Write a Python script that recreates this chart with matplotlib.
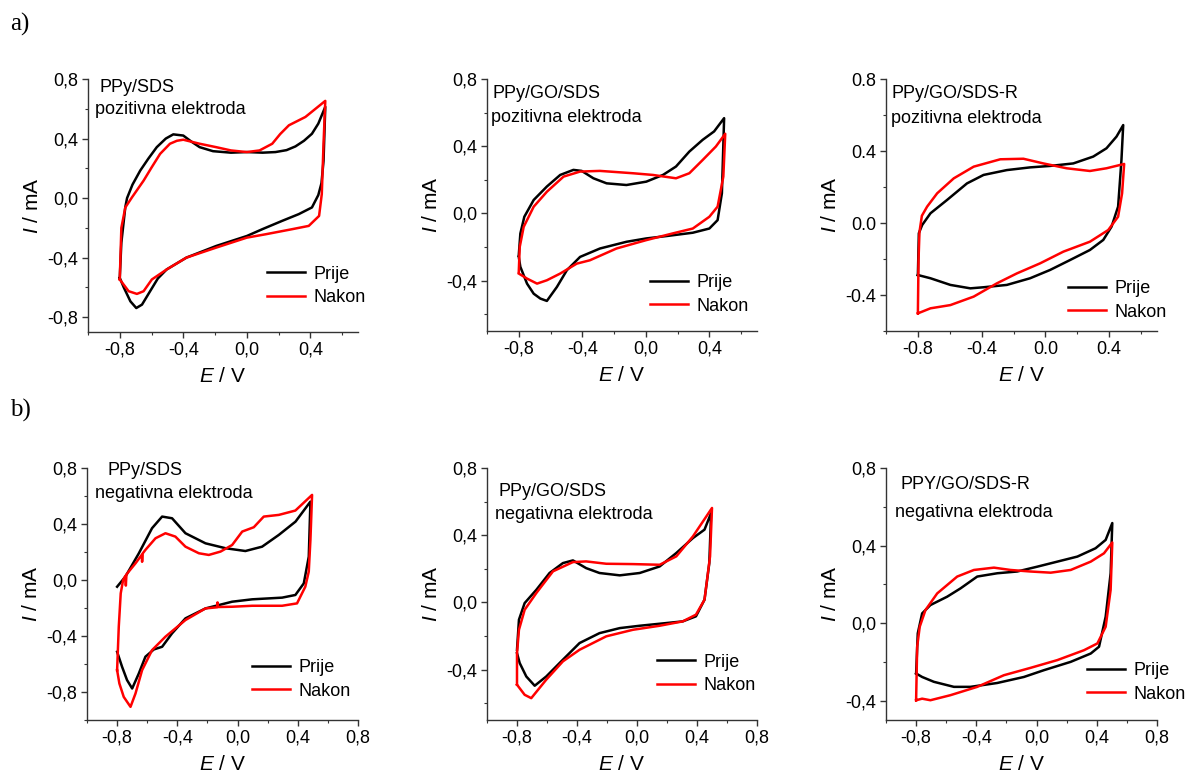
import matplotlib
matplotlib.use("Agg")
import matplotlib.pyplot as plt
from matplotlib.ticker import MultipleLocator, FuncFormatter

plt.rcParams['font.family'] = ['Liberation Sans', 'DejaVu Sans']
plt.rcParams['mathtext.fontset'] = 'custom'
plt.rcParams['mathtext.it'] = 'Liberation Sans:italic'
plt.rcParams['mathtext.rm'] = 'Liberation Sans'

# ---- data: E / V and I / mA ----
# a) pozitivna elektroda
p1_prije_E = [-0.8, -0.79, -0.765, -0.754, -0.72, -0.671, -0.62, -0.567, -0.51, -0.463, -0.40, -0.35, -0.297, -0.213, -0.1, 0.0, 0.1, 0.18, 0.25, 0.306, 0.36, 0.41, 0.45, 0.494,
              0.483, 0.47, 0.45, 0.41, 0.327, 0.223, 0.098, 0.0, -0.193, -0.38, -0.505, -0.56, -0.609, -0.66, -0.696, -0.733, -0.775, -0.8]
p1_prije_I = [-0.536, -0.3, -0.06, 0.0, 0.09, 0.185, 0.265, 0.342, 0.40, 0.428, 0.42, 0.38, 0.342, 0.315, 0.305, 0.309, 0.305, 0.309, 0.322, 0.347, 0.385, 0.432, 0.5, 0.613,
              0.25, 0.1, 0.02, -0.063, -0.108, -0.153, -0.209, -0.255, -0.322, -0.40, -0.48, -0.54, -0.626, -0.716, -0.739, -0.694, -0.60, -0.536]
p1_nakon_E = [-0.8, -0.79, -0.765, -0.723, -0.65, -0.6, -0.546, -0.484, -0.44, -0.40, -0.297, -0.193, -0.1, 0.0, 0.08, 0.16, 0.21, 0.265, 0.369, 0.494,
              0.483, 0.472, 0.455, 0.39, 0.286, 0.12, 0.0, -0.193, -0.38, -0.505, -0.598, -0.65, -0.692, -0.744, -0.8]
p1_nakon_I = [-0.547, -0.2, -0.063, 0.005, 0.117, 0.205, 0.297, 0.365, 0.385, 0.392, 0.365, 0.342, 0.32, 0.309, 0.32, 0.365, 0.43, 0.489, 0.545, 0.653,
              0.365, 0.027, -0.12, -0.187, -0.209, -0.243, -0.266, -0.333, -0.40, -0.48, -0.547, -0.626, -0.644, -0.626, -0.547]

p2_prije_E = [-0.8, -0.79, -0.765, -0.706, -0.623, -0.539, -0.456, -0.404, -0.33, -0.247, -0.122, 0.003, 0.108, 0.19, 0.274, 0.358, 0.43, 0.493,
              0.479, 0.452, 0.40, 0.296, 0.129, 0.003, -0.122, -0.289, -0.414, -0.497, -0.56, -0.623, -0.664, -0.706, -0.748, -0.79, -0.8]
p2_prije_I = [-0.249, -0.12, -0.02, 0.08, 0.16, 0.229, 0.259, 0.253, 0.209, 0.179, 0.169, 0.189, 0.229, 0.279, 0.368, 0.438, 0.488, 0.567,
              0.12, -0.04, -0.09, -0.115, -0.135, -0.149, -0.169, -0.209, -0.259, -0.338, -0.438, -0.521, -0.507, -0.478, -0.418, -0.318, -0.259]
p2_nakon_E = [-0.8, -0.794, -0.769, -0.706, -0.623, -0.518, -0.414, -0.289, -0.081, 0.044, 0.19, 0.274, 0.358, 0.441, 0.5,
              0.488, 0.452, 0.40, 0.296, 0.17, 0.003, -0.185, -0.352, -0.435, -0.539, -0.623, -0.685, -0.748, -0.8]
p2_nakon_I = [-0.348, -0.2, -0.08, 0.04, 0.129, 0.219, 0.249, 0.253, 0.239, 0.229, 0.209, 0.239, 0.318, 0.398, 0.474,
              0.219, 0.04, -0.02, -0.09, -0.119, -0.159, -0.209, -0.279, -0.299, -0.358, -0.398, -0.418, -0.388, -0.358]

p3_prije_E = [-0.8, -0.794, -0.773, -0.721, -0.617, -0.492, -0.388, -0.242, -0.096, 0.029, 0.175, 0.30, 0.383, 0.446, 0.488,
              0.477, 0.456, 0.415, 0.363, 0.279, 0.154, 0.029, -0.096, -0.242, -0.388, -0.471, -0.596, -0.721, -0.8]
p3_prije_I = [-0.289, -0.057, -0.011, 0.054, 0.128, 0.22, 0.267, 0.294, 0.309, 0.317, 0.331, 0.369, 0.415, 0.48, 0.544,
              0.35, 0.091, -0.02, -0.094, -0.15, -0.206, -0.261, -0.307, -0.344, -0.357, -0.363, -0.344, -0.307, -0.289]
p3_nakon_E = [-0.8, -0.796, -0.79, -0.775, -0.742, -0.679, -0.575, -0.45, -0.283, -0.138, -0.013, 0.133, 0.279, 0.383, 0.494,
              0.481, 0.456, 0.394, 0.279, 0.113, -0.033, -0.179, -0.304, -0.45, -0.596, -0.721, -0.8]
p3_nakon_I = [-0.502, -0.206, -0.05, 0.04, 0.091, 0.165, 0.248, 0.313, 0.354, 0.357, 0.331, 0.304, 0.289, 0.304, 0.328,
              0.165, 0.035, -0.039, -0.104, -0.159, -0.224, -0.28, -0.335, -0.409, -0.456, -0.474, -0.502]

# b) negativna elektroda
p4_prije_E = [-0.8, -0.745, -0.656, -0.568, -0.501, -0.435, -0.346, -0.213, -0.08, 0.052, 0.163, 0.274, 0.385, 0.484,
              0.473, 0.44, 0.384, 0.296, 0.097, -0.036, -0.213, -0.346, -0.435, -0.501, -0.556, -0.612, -0.656, -0.70, -0.734, -0.767, -0.8]
p4_prije_I = [-0.048, 0.024, 0.19, 0.37, 0.453, 0.441, 0.334, 0.262, 0.227, 0.207, 0.238, 0.322, 0.417, 0.56,
              0.167, -0.024, -0.107, -0.126, -0.138, -0.155, -0.203, -0.274, -0.381, -0.477, -0.496, -0.548, -0.668, -0.775, -0.715, -0.62, -0.513]
p4_nakon_E = [-0.8, -0.789, -0.776, -0.76, -0.745, -0.742, -0.738, -0.678, -0.636, -0.634, -0.630, -0.612, -0.545, -0.479, -0.413, -0.346, -0.257, -0.191, -0.113, -0.036, 0.031, 0.108, 0.174, 0.274, 0.384, 0.495,
              0.484, 0.473, 0.45, 0.395, 0.296, 0.097, -0.036, -0.13, -0.133, -0.136, -0.213, -0.346, -0.479, -0.568, -0.634, -0.678, -0.711, -0.756, -0.785, -0.8]
p4_nakon_I = [-0.644, -0.334, -0.095, 0.0, 0.03, -0.04, 0.04, 0.119, 0.18, 0.13, 0.19, 0.215, 0.298, 0.334, 0.31, 0.238, 0.191, 0.179, 0.203, 0.25, 0.346, 0.377, 0.453, 0.465, 0.496, 0.608,
              0.286, 0.06, -0.048, -0.167, -0.184, -0.184, -0.191, -0.193, -0.16, -0.195, -0.203, -0.286, -0.405, -0.501, -0.644, -0.811, -0.906, -0.835, -0.739, -0.644]

p5_prije_E = [-0.8, -0.787, -0.749, -0.671, -0.583, -0.494, -0.427, -0.339, -0.25, -0.115, 0.018, 0.151, 0.262, 0.373, 0.45, 0.494,
              0.482, 0.45, 0.393, 0.305, 0.151, 0.018, -0.115, -0.25, -0.383, -0.494, -0.605, -0.682, -0.738, -0.782, -0.8]
p5_prije_I = [-0.282, -0.103, -0.004, 0.075, 0.175, 0.234, 0.25, 0.204, 0.175, 0.161, 0.175, 0.214, 0.294, 0.383, 0.433, 0.532,
              0.234, 0.016, -0.083, -0.113, -0.127, -0.139, -0.153, -0.183, -0.242, -0.341, -0.441, -0.496, -0.441, -0.361, -0.302]
p5_nakon_E = [-0.8, -0.8, -0.787, -0.749, -0.671, -0.56, -0.427, -0.339, -0.205, -0.027, 0.151, 0.262, 0.373, 0.5,
              0.487, 0.45, 0.393, 0.305, 0.151, -0.027, -0.205, -0.383, -0.494, -0.605, -0.705, -0.749, -0.8]
p5_nakon_I = [-0.49, -0.302, -0.163, -0.044, 0.056, 0.185, 0.24, 0.244, 0.23, 0.228, 0.224, 0.274, 0.393, 0.562,
              0.274, 0.016, -0.073, -0.113, -0.139, -0.163, -0.202, -0.282, -0.351, -0.46, -0.57, -0.55, -0.49]

p6_prije_E = [-0.8, -0.789, -0.76, -0.705, -0.594, -0.505, -0.394, -0.261, -0.129, 0.005, 0.138, 0.271, 0.392, 0.459, 0.503,
              0.492, 0.459, 0.415, 0.36, 0.227, 0.049, -0.084, -0.261, -0.439, -0.549, -0.682, -0.76, -0.8]
p6_prije_I = [-0.26, -0.053, 0.05, 0.093, 0.136, 0.179, 0.24, 0.257, 0.266, 0.291, 0.317, 0.343, 0.386, 0.429, 0.516,
              0.257, 0.033, -0.122, -0.157, -0.2, -0.243, -0.278, -0.309, -0.329, -0.329, -0.303, -0.278, -0.26]
p6_nakon_E = [-0.8, -0.793, -0.776, -0.738, -0.66, -0.527, -0.416, -0.283, -0.173, -0.04, 0.094, 0.227, 0.36, 0.448, 0.503,
              0.492, 0.459, 0.404, 0.315, 0.138, -0.04, -0.217, -0.394, -0.572, -0.705, -0.76, -0.8]
p6_nakon_I = [-0.398, -0.122, -0.019, 0.067, 0.153, 0.24, 0.274, 0.286, 0.274, 0.266, 0.26, 0.274, 0.317, 0.36, 0.416,
              0.171, -0.019, -0.105, -0.14, -0.191, -0.231, -0.269, -0.329, -0.372, -0.398, -0.39, -0.398]

titles = ["PPy/SDS", "PPy/GO/SDS", "PPy/GO/SDS-R", "PPy/SDS", "PPy/GO/SDS", "PPY/GO/SDS-R"]
subtitles = ["pozitivna elektroda"] * 3 + ["negativna elektroda"] * 3
legend_labels = ["Prije", "Nakon"]

# ---- layout ----
W, H = 1189, 775
fig = plt.figure(figsize=(W / 100, H / 100), dpi=100)


def rect(l, t, r, b):
    return [l / W, 1 - b / H, (r - l) / W, (b - t) / H]


boxes = [rect(88, 79, 358, 332), rect(487, 79, 757, 331), rect(886, 79, 1157, 331),
         rect(87, 468, 358, 720), rect(487, 468, 757, 720), rect(886, 468, 1157, 720)]
xlims = [(-1.0, 0.7)] * 3 + [(-1.0, 0.8)] * 3
ylims = [(-0.9, 0.8), (-0.7, 0.8), (-0.6, 0.8), (-1.0, 0.8), (-0.7, 0.8), (-0.5, 0.8)]
comma = [True, True, False, True, True, True]
title_pos = [(0.044, 0.968), (0.022, 0.944), (0.022, 0.944), (0.074, 0.99), (0.044, 0.905), (0.052, 0.933)]
sub_pos = [(0.026, 0.881), (0.015, 0.849), (0.018, 0.845), (0.03, 0.90), (0.03, 0.817), (0.033, 0.825)]
leg_pos = [(0.663, 0.182), (0.604, 0.145), (0.672, 0.121), (0.609, 0.161), (0.63, 0.183), (0.742, 0.149)]

curves = [(p1_prije_E, p1_prije_I, p1_nakon_E, p1_nakon_I),
          (p2_prije_E, p2_prije_I, p2_nakon_E, p2_nakon_I),
          (p3_prije_E, p3_prije_I, p3_nakon_E, p3_nakon_I),
          (p4_prije_E, p4_prije_I, p4_nakon_E, p4_nakon_I),
          (p5_prije_E, p5_prije_I, p5_nakon_E, p5_nakon_I),
          (p6_prije_E, p6_prije_I, p6_nakon_E, p6_nakon_I)]

for k in range(6):
    ax = fig.add_axes(boxes[k])
    e1, i1, e2, i2 = curves[k]
    ax.plot(e1, i1, color='black', lw=1.8, label=legend_labels[0])
    ax.plot(e2, i2, color='red', lw=1.8, label=legend_labels[1])

    ax.set_xlim(*xlims[k])
    ax.set_ylim(*ylims[k])
    for s in ['top', 'right']:
        ax.spines[s].set_visible(False)
    for s in ['left', 'bottom']:
        ax.spines[s].set_linewidth(1.0)
        ax.spines[s].set_color('#333333')

    ax.xaxis.set_major_locator(MultipleLocator(0.4))
    ax.xaxis.set_minor_locator(MultipleLocator(0.2))
    ax.yaxis.set_major_locator(MultipleLocator(0.4))
    ax.yaxis.set_minor_locator(MultipleLocator(0.2))
    if comma[k]:
        fmt = FuncFormatter(lambda v, p: f"{v:.1f}".replace('.', ',').replace('-0,0', '0,0'))
    else:
        fmt = FuncFormatter(lambda v, p: f"{v:.1f}".replace('-0.0', '0.0'))
    ax.xaxis.set_major_formatter(fmt)
    ax.yaxis.set_major_formatter(fmt)
    ax.tick_params(which='major', direction='out', length=4, width=1, labelsize=13, pad=3, color='#333333')
    ax.tick_params(which='minor', direction='out', length=2.5, width=0.8, color='#333333')

    ax.set_xlabel(r'$\mathit{E}$ / V', fontsize=15)
    ax.set_ylabel(r'$\mathit{I}$ / mA', fontsize=15)
    ax.xaxis.set_label_coords(0.5, -0.14)
    ax.yaxis.set_label_coords(-0.17, 0.5)

    ax.text(*title_pos[k], titles[k], transform=ax.transAxes, fontsize=13, va='center', ha='left')
    ax.text(*sub_pos[k], subtitles[k], transform=ax.transAxes, fontsize=13, va='center', ha='left')

    ax.legend(loc='center left', bbox_to_anchor=leg_pos[k], frameon=False, fontsize=13,
              borderpad=0, borderaxespad=0, handlelength=2.1, handletextpad=0.45, labelspacing=0.35)

fig.text(10 / W, 1 - 24 / H, 'a)', fontsize=18, family='Liberation Serif', va='center', ha='left')
fig.text(10 / W, 1 - 410 / H, 'b)', fontsize=18, family='Liberation Serif', va='center', ha='left')

fig.savefig('out.png', dpi=100)
